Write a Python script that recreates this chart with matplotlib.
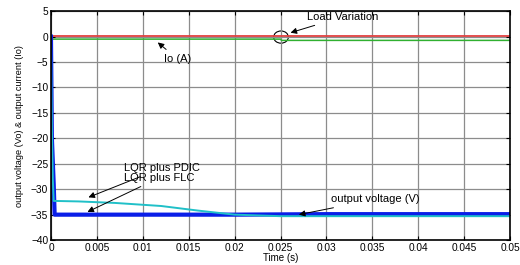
import matplotlib.pyplot as plt
from matplotlib.patches import Ellipse

plt.rcParams['font.family'] = ['Liberation Sans', 'DejaVu Sans']

# output current Io (A)
t_io_ref = [0, 0.05]
io_ref = [0.05, 0.05]
t_io = [0, 0.025, 0.0251, 0.05]
io = [-0.5, -0.5, -0.75, -0.75]

# output voltage, LQR plus FLC
t_flc = [0, 0.0001, 0.0003, 0.0004, 0.01, 0.02, 0.03, 0.05]
v_flc = [0, -20, -29, -35.0, -35.0, -35.0, -34.9, -34.9]

# output voltage, LQR plus PDIC
t_pdic = [0, 0.0001, 0.0002, 0.0003, 0.003, 0.007, 0.012, 0.016, 0.02, 0.025, 0.05]
v_pdic = [0, -18, -28, -32.3, -32.4, -32.7, -33.3, -34.2, -35.0, -35.3, -35.3]

fig = plt.figure(figsize=(5.2, 2.65), dpi=100)
ax = fig.add_axes([0.098, 0.094, 0.883, 0.864])

ax.plot(t_io_ref, io_ref, color='#e04040', lw=1.3)
ax.plot(t_io, io, color='#30b030', lw=1.1)
ax.plot(t_flc, v_flc, color='#0a1ee8', lw=3.0)
ax.plot(t_pdic, v_pdic, color='#20c0c8', lw=1.4)
ax.plot([0.00002, 0.00002], [0, -35], color='#101070', lw=1.2)

ax.set_xlim(0, 0.05)
ax.set_ylim(-40, 5)
ax.set_xticks([0, 0.005, 0.01, 0.015, 0.02, 0.025, 0.03, 0.035, 0.04, 0.045, 0.05])
ax.set_xticklabels(['0', '0.005', '0.01', '0.015', '0.02', '0.025', '0.03',
                    '0.035', '0.04', '0.045', '0.05'])
ax.set_yticks(range(-40, 6, 5))
ax.grid(True, color='#8c8c8c', lw=0.9)
ax.tick_params(labelsize=7.3, direction='in', length=3, pad=2, top=True, right=True)
for s in ax.spines.values():
    s.set_linewidth(1.2)

ax.set_xlabel('Time (s)', fontsize=7, labelpad=0)
ax.set_ylabel('output voltage (Vo) & output current (Io)', fontsize=6.6, labelpad=5)

arrow = dict(arrowstyle='-|>', color='black', lw=0.7, mutation_scale=9)
ax.add_patch(Ellipse((0.02505, -0.1), 0.0016, 2.4, fill=False, color='black', lw=0.8))
ax.annotate('Load Variation', xy=(0.0258, 0.6), xytext=(0.0279, 3.3),
            fontsize=8, arrowprops=arrow)
ax.annotate('Io (A)', xy=(0.0114, -0.8), xytext=(0.0123, -5.0),
            fontsize=8, arrowprops=arrow)
ax.annotate('LQR plus PDIC', xy=(0.0038, -31.8), xytext=(0.008, -26.4),
            fontsize=8, arrowprops=arrow)
ax.annotate('LQR plus FLC', xy=(0.0037, -34.7), xytext=(0.008, -28.3),
            fontsize=8, arrowprops=arrow)
ax.annotate('output voltage (V)', xy=(0.0267, -35.1), xytext=(0.0305, -32.6),
            fontsize=8, arrowprops=arrow)

fig.savefig('out.png', dpi=100)
